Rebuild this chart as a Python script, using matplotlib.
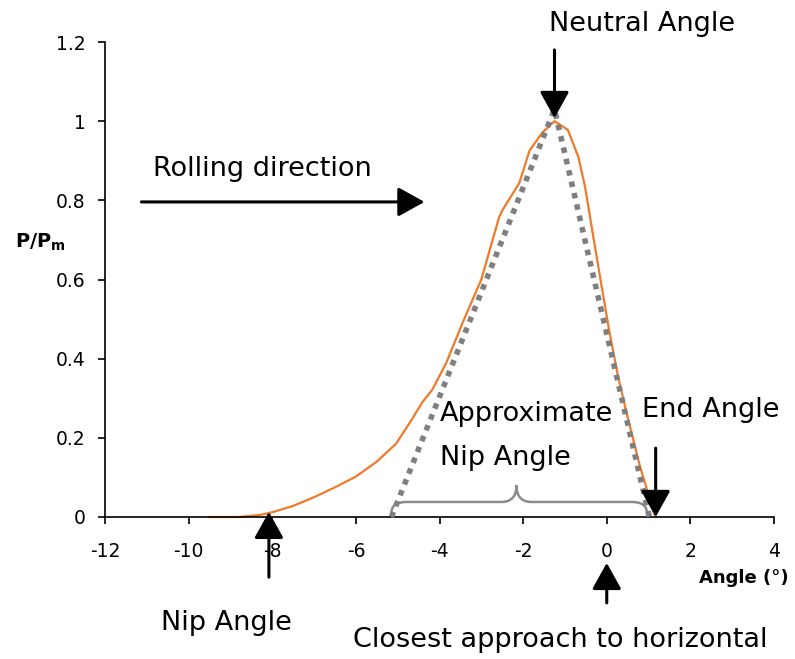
import numpy as np
import matplotlib
matplotlib.use("Agg")
import matplotlib.pyplot as plt
from matplotlib.path import Path
from matplotlib.patches import PathPatch

plt.rcParams["axes.unicode_minus"] = False

# Measured pressure distribution along the roll bite
angle = [-9.5, -8.8, -8.3, -8.0, -7.5, -7.0, -6.5, -6.0, -5.5, -5.04, -4.7, -4.41, -4.17,
         -3.84, -3.45, -3.0, -2.57, -2.49, -2.09, -1.85, -1.55, -1.25, -0.93, -0.68,
         -0.52, -0.34, -0.15, 0.06, 0.27, 0.48, 0.79, 1.13, 1.18]
pressure = [0.0, 0.0, 0.005, 0.012, 0.028, 0.05, 0.075, 0.102, 0.14, 0.185, 0.24, 0.29, 0.322,
            0.389, 0.49, 0.6, 0.759, 0.776, 0.844, 0.925, 0.97, 1.0, 0.978, 0.91,
            0.835, 0.72, 0.6, 0.47, 0.355, 0.26, 0.13, 0.01, 0.0]

# Triangular approximation of the distribution
tri_angle = [-5.15, -1.25, 1.02]
tri_pressure = [0.0, 1.03, 0.0]

x_ticks = [-12, -10, -8, -6, -4, -2, 0, 2, 4]
y_ticks = [0, 0.2, 0.4, 0.6, 0.8, 1.0, 1.2]
y_tick_labels = ["0", "0.2", "0.4", "0.6", "0.8", "1", "1.2"]

# Characteristic angles
nip_angle = -8.08
neutral_angle = -1.25
end_angle = 1.17
closest_angle = 0.0

W, H = 795, 659
fig = plt.figure(figsize=(W / 100, H / 100), dpi=100)
ax = fig.add_axes([105 / W, (H - 517) / H, (774 - 105) / W, (517 - 42) / H])

ax.plot(angle, pressure, color="#F07A2A", lw=1.6, clip_on=False, zorder=2)
ax.plot(tri_angle, tri_pressure, color="#7F7F7F", lw=4, dashes=(1, 1.1),
        dash_capstyle="butt", clip_on=False, zorder=3)

ax.set_xlim(-12, 4)
ax.set_ylim(0, 1.2)
ax.set_xticks(x_ticks)
ax.set_yticks(y_ticks)
ax.set_yticklabels(y_tick_labels)
for s in ("top", "right"):
    ax.spines[s].set_visible(False)
for s in ("left", "bottom"):
    ax.spines[s].set_linewidth(1.2)
ax.tick_params(direction="out", length=5, width=1.2, labelsize=13.5, colors="black")
ax.tick_params(axis="x", pad=13)
ax.tick_params(axis="y", pad=9)

fig.text(15 / W, (H - 242) / H, r"$\mathbf{P/P_m}$", fontsize=14, va="center", ha="left")
fig.text(789 / W, (H - 578) / H, "Angle (°)", fontsize=13, fontweight="bold",
         va="center", ha="right")

arrow_kw = dict(arrowstyle="-|>,head_length=0.9,head_width=0.5", color="black",
                lw=2.2, mutation_scale=18, shrinkA=0, shrinkB=0)
tfs = 19.5

# Neutral angle
ax.annotate("", xy=(neutral_angle, 1.008), xytext=(neutral_angle, 1.18),
            arrowprops=arrow_kw, annotation_clip=False)
ax.text(0.85, 1.245, "Neutral Angle", fontsize=tfs, ha="center", va="center",
        clip_on=False)

# Rolling direction
ax.annotate("", xy=(-4.36, 0.796), xytext=(-11.13, 0.796),
            arrowprops=arrow_kw, annotation_clip=False)
ax.text(-10.85, 0.88, "Rolling direction", fontsize=tfs, ha="left", va="center")

# End angle
ax.annotate("", xy=(end_angle, 0.0), xytext=(end_angle, 0.174),
            arrowprops=arrow_kw, annotation_clip=False)
ax.text(0.85, 0.27, "End Angle", fontsize=tfs, ha="left", va="center")

# Approximate nip angle with brace
ax.text(-4.0, 0.26, "Approximate", fontsize=tfs, ha="left", va="center")
ax.text(-4.0, 0.15, "Nip Angle", fontsize=tfs, ha="left", va="center")

x0, x1 = tri_angle[0], 0.96
xm = -2.16
yb, yh, yt = 0.01, 0.038, 0.08
r = 0.36
verts = [(x0, yb), (x0, yh), (x0 + r, yh), (xm - r, yh), (xm, yh), (xm, yt),
         (xm, yh), (xm + r, yh), (x1 - r, yh), (x1, yh), (x1, yb)]
codes = [Path.MOVETO, Path.CURVE3, Path.CURVE3, Path.LINETO, Path.CURVE3, Path.CURVE3,
         Path.CURVE3, Path.CURVE3, Path.LINETO, Path.CURVE3, Path.CURVE3]
ax.add_patch(PathPatch(Path(verts, codes), fill=False, edgecolor="#8C8C8C", lw=1.8,
                       clip_on=False, zorder=1))

# Nip angle
ax.annotate("", xy=(nip_angle, 0.013), xytext=(nip_angle, -0.152),
            arrowprops=arrow_kw, annotation_clip=False)
ax.text(-10.65, -0.268, "Nip Angle", fontsize=tfs, ha="left", va="center",
        clip_on=False)

# Closest approach to horizontal
ax.annotate("", xy=(closest_angle, -0.116), xytext=(closest_angle, -0.217),
            arrowprops=arrow_kw, annotation_clip=False)
ax.text(-6.08, -0.311, "Closest approach to horizontal", fontsize=tfs, ha="left",
        va="center", clip_on=False)

fig.savefig("out.png", dpi=100)
